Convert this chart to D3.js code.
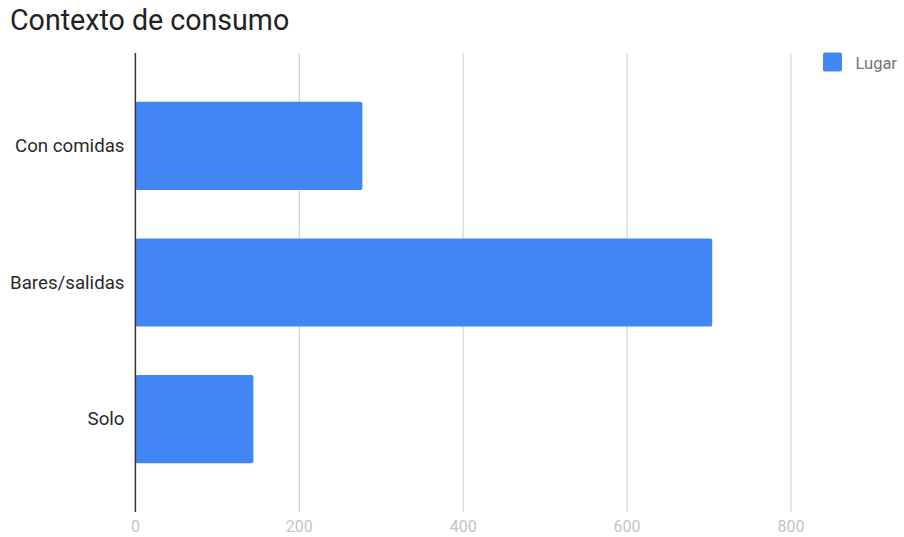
<!DOCTYPE html>
<html>
<head>
<meta charset="utf-8">
<script src="https://cdn.jsdelivr.net/npm/d3@7"></script>
<style>
  html, body { margin: 0; padding: 0; background: #fff; }
  svg { display: block; font-family: Roboto, "Noto Sans", sans-serif; }
</style>
</head>
<body>
<svg id="chart" width="904" height="537"></svg>
<script>
const title = "Contexto de consumo";
const categories = ["Con comidas", "Bares/salidas", "Solo"];
const values = [277, 704, 144];
const seriesName = "Lugar";
const xTicks = [0, 200, 400, 600, 800];

const svg = d3.select("#chart");
const plot = { top: 53, bottom: 512 };

const x = d3.scaleLinear().domain([0, 800]).range([135.4, 790.9]);
const y = d3.scaleBand().domain(categories).range([plot.top, plot.bottom])
  .paddingInner(0.354).paddingOuter(0.357);

// title
svg.append("text").attr("x", 10).attr("y", 30)
  .attr("font-size", 28.6).attr("fill", "#222").text(title);

// gridlines
svg.append("g").selectAll("line").data(xTicks.filter(d => d !== 0)).join("line")
  .attr("x1", d => x(d)).attr("x2", d => x(d))
  .attr("y1", plot.top).attr("y2", plot.bottom)
  .attr("stroke", "#cccccc").attr("stroke-width", 1);

// bars
svg.append("g").selectAll("rect").data(categories).join("rect")
  .attr("x", x(0)).attr("y", d => y(d))
  .attr("width", (d, i) => x(values[i]) - x(0))
  .attr("height", y.bandwidth())
  .attr("rx", 2).attr("ry", 2)
  .attr("fill", "#4285f4");

// zero axis line
svg.append("line").attr("x1", x(0)).attr("x2", x(0))
  .attr("y1", plot.top).attr("y2", plot.bottom)
  .attr("stroke", "#333333").attr("stroke-width", 1.5);

// x tick labels
svg.append("g").selectAll("text").data(xTicks).join("text")
  .attr("x", d => x(d)).attr("y", 531.5)
  .attr("text-anchor", "middle").attr("font-size", 16)
  .attr("fill", "#c4c4c4").text(d => d);

// category labels
svg.append("g").selectAll("text").data(categories).join("text")
  .attr("x", 124.5).attr("y", d => y(d) + y.bandwidth() / 2)
  .attr("dy", "0.34em")
  .attr("text-anchor", "end").attr("font-size", 18.7)
  .attr("fill", "#2a2a2a").text(d => d);

// legend
const lg = svg.append("g");
lg.append("rect").attr("x", 823).attr("y", 52.5).attr("width", 19).attr("height", 19)
  .attr("rx", 2).attr("fill", "#4285f4");
lg.append("text").attr("x", 855.5).attr("y", 68.5)
  .attr("font-size", 16.5).attr("fill", "#757575").text(seriesName);
</script>
</body>
</html>
